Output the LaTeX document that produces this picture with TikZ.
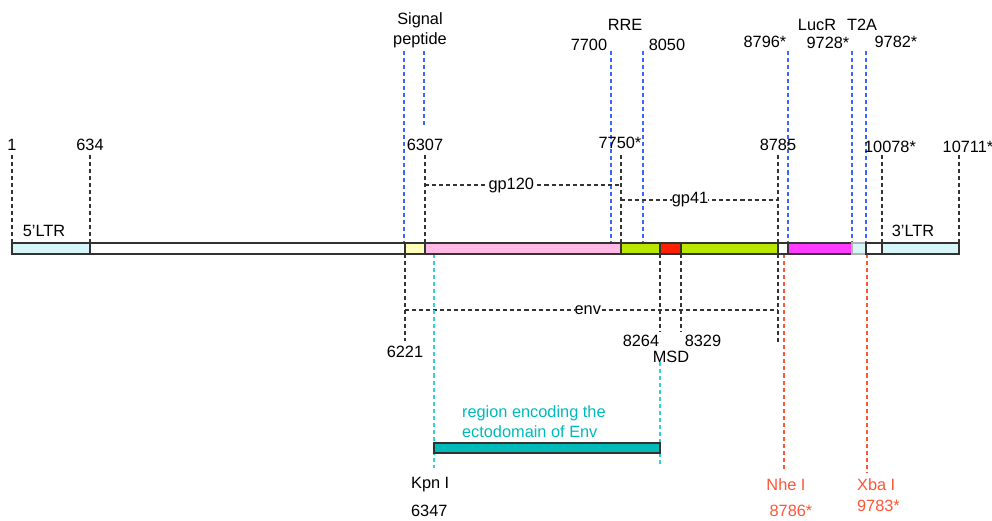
\documentclass[tikz,border=0pt]{standalone}
\usepackage{fontspec}
\setmainfont{Liberation Sans}
\usetikzlibrary{positioning}
\definecolor{ltrcyan}{RGB}{214,246,250}
\definecolor{sigyellow}{RGB}{255,255,185}
\definecolor{gppink}{RGB}{255,185,228}
\definecolor{gplime}{RGB}{186,230,0}
\definecolor{msdred}{RGB}{255,32,0}
\definecolor{lucmag}{RGB}{255,60,255}
\definecolor{ectoteal}{RGB}{0,186,186}
\definecolor{siteblue}{RGB}{60,100,255}
\definecolor{sitecyan}{RGB}{50,210,210}
\definecolor{sitered}{RGB}{255,85,55}
\definecolor{bardark}{RGB}{50,50,50}

\begin{document}
\begin{tikzpicture}[x=0.02cm,y=-0.02cm,
 every node/.style={font=\fontsize{9.3}{11.4}\selectfont,inner sep=1pt},
 tick/.style={dash pattern=on 2.3pt off 1.7pt,line width=.65pt,black!80},
 bluetick/.style={tick,siteblue},
 cyantick/.style={tick,sitecyan},
 redtick/.style={tick,sitered},
 seg/.style={draw=bardark,line width=.85pt}]
\useasboundingbox (0,0) rectangle (992,521);

% black markers above the genome
\foreach \n/\x in {1/12,634/90,6307/425,7750/621,8785/778,10078/882,10711/959}{
 \coordinate (u\n) at (\x,155); \coordinate (t\n) at (\x,243);
 \draw[tick] (u\n) -- (t\n);}
% blue markers
\foreach \n/\x/\y in {sa/404/243,sb/424/126,7700/611/243,8050/643/243,8796/788/243,9728/852/243,9782/866/243}{
 \coordinate (v\n) at (\x,51); \coordinate (w\n) at (\x,\y);
 \draw[bluetick] (v\n) -- (w\n);}
% black markers below
\foreach \n/\x/\y in {6221/405/341,8264/660/332,8329/681/332,8785/778/343}{
 \coordinate (b\n) at (\x,254); \coordinate (d\n) at (\x,\y);
 \draw[tick] (b\n) -- (d\n);}

% protein brackets
\coordinate (g1) at (425,185); \coordinate (g2) at (621,185);
\draw[tick] (g1) -- node[pos=.44,fill=white,text=black,inner sep=2pt] (gp120) {gp120} (g2);
\coordinate (g3) at (621,200); \coordinate (g4) at (778,200);
\draw[tick] (g3) -- node[pos=.44,fill=white,text=black,inner sep=0pt] (gp41) {gp41} (g4);
\coordinate (e1) at (405,310); \coordinate (e2) at (778,310);
\draw[tick] (e1) -- node[pos=.49,fill=white,text=black,inner sep=0pt] (env) {env} (e2);

% restriction sites
\coordinate (k1) at (434,254); \coordinate (k2) at (434,468);
\draw[cyantick] (k1) -- (k2);
\coordinate (k3) at (660,362); \coordinate (k4) at (660,465);
\draw[cyantick] (k3) -- (k4);
\coordinate (r1) at (784,254); \coordinate (r2) at (784,470);
\draw[redtick] (r1) -- (r2);
\coordinate (r3) at (867,254); \coordinate (r4) at (867,473);
\draw[redtick] (r3) -- (r4);

% genome bar
\foreach \a/\b/\c in {12/90/ltrcyan,90/405/white,405/425/sigyellow,425/621/gppink,621/660/gplime,660/681/msdred,681/778/gplime,778/788/white,788/852/lucmag,866/882/white,882/959/ltrcyan}
 \filldraw[seg,fill=\c] (\a,243) rectangle (\b,254);
\filldraw[draw=black!30,fill=ltrcyan,line width=.85pt] (852,243) rectangle (866,254);
\draw[seg] (866,243) rectangle (882,254);

% ectodomain bar
\filldraw[seg,fill=ectoteal] (434,443) rectangle (660,453);

% labels
\node[align=center] (sig) at (420,30) {Signal\\peptide};
\node (rre) at (625,25) {RRE};
\node (l7700) at (589,45) {7700};
\node (l8050) at (667,45) {8050};
\node (l8796) at (765,42) {8796*};
\node (lucr) at (817,25) {LucR};
\node (l9728) at (828,43) {9728*};
\node (t2a) at (862,25) {T2A};
\node (l9782) at (896,42) {9782*};
\node (l1) at (12,145) {1};
\node (l634) at (90,145) {634};
\node (l6307) at (425,145) {6307};
\node (l7750) at (620,143) {7750*};
\node (l8785) at (778,145) {8785};
\node (l10078) at (890,147) {10078*};
\node (l10711) at (968,147) {10711*};
\node (ltr5) at (44,231) {5’LTR};
\node (ltr3) at (913,231) {3’LTR};
\node (l6221) at (405,352) {6221};
\node (l8264) at (641,341) {8264};
\node (l8329) at (703,341) {8329};
\node (msd) at (671,357) {MSD};
\node[anchor=west,align=left,text=ectoteal] (ecto) at (460,422) {region encoding the\\ectodomain of Env};
\node[anchor=west] (kpn) at (409,485) {Kpn I};
\node[anchor=west] (l6347) at (409,511) {6347};
\node[text=sitered] (nhe) at (786,485) {Nhe I};
\node[text=sitered] (l8786) at (791,511) {8786*};
\node[anchor=west,text=sitered] (xba) at (855,485) {Xba I};
\node[anchor=west,text=sitered] (l9783) at (855,506) {9783*};
\end{tikzpicture}
\end{document}
